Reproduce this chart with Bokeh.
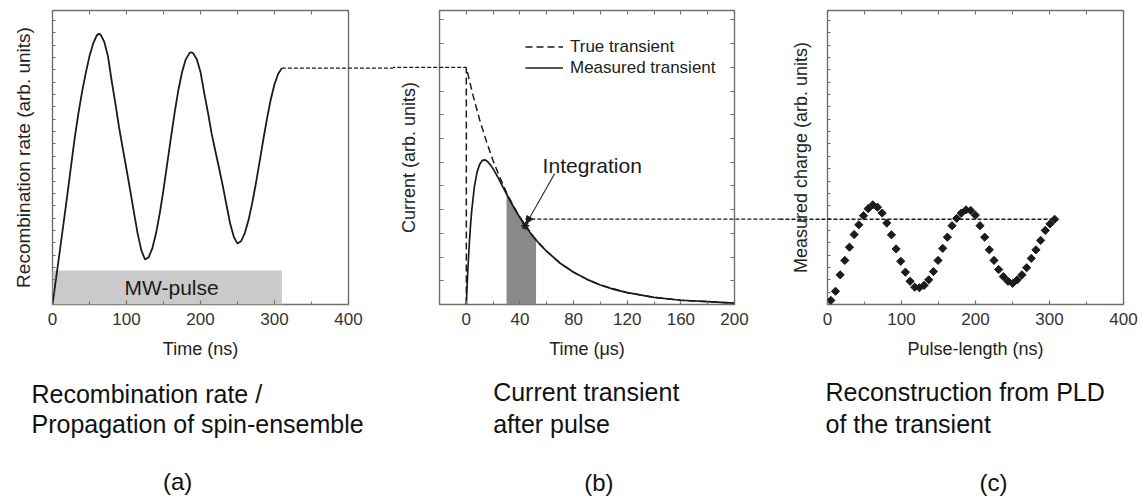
from bokeh.plotting import figure
from bokeh.layouts import row
from bokeh.models import (Range1d, FixedTicker, LinearAxis, Label, Arrow,
                          NormalHead, Legend, LegendItem)
from bokeh.core.properties import value
from bokeh.embed import file_html
from bokeh.resources import INLINE

# ---------------- data ----------------
# (a) recombination rate during the microwave pulse
a_time_ns = [0, 5, 10, 15, 20, 25, 30, 35, 40, 45, 50, 55, 60, 62.5, 65, 70, 75,
             80, 85, 90, 95, 100, 105, 110, 115, 120, 125, 130, 135, 140, 145,
             150, 155, 160, 165, 170, 175, 180, 185, 187.5, 190, 195, 200, 205,
             210, 215, 220, 225, 230, 235, 240, 245, 250, 255, 260, 265, 270,
             275, 280, 285, 290, 295, 300, 305, 310]
a_rate = [0.00, 0.92, 1.84, 2.78, 3.72, 4.70, 5.66, 6.50, 7.24, 7.88, 8.45, 8.88,
          9.16, 9.21, 9.18, 8.93, 8.44, 7.60, 6.83, 6.02, 5.30, 4.60, 3.88, 3.14,
          2.42, 1.85, 1.53, 1.61, 1.92, 2.43, 3.11, 3.91, 4.78, 5.67, 6.52, 7.28,
          7.90, 8.33, 8.55, 8.58, 8.55, 8.34, 7.91, 7.20, 6.54, 5.82, 5.23, 4.65,
          4.05, 3.40, 2.76, 2.30, 2.07, 2.16, 2.44, 2.88, 3.46, 4.14, 4.88, 5.63,
          6.34, 6.98, 7.49, 7.85, 8.04]
a_pulse_start_ns = 0
a_pulse_end_ns = 310
a_pulse_level = 1.16

# (b) current transient after the pulse
b_true_time_us = [0, 0, 5, 10, 15, 20, 25, 30, 35, 40, 50, 60, 70, 80, 90, 100,
                  120, 140, 160, 180, 200]
b_true_current = [0, 5.00, 4.41, 3.89, 3.44, 3.03, 2.68, 2.36, 2.08, 1.84, 1.43,
                  1.12, 0.87, 0.68, 0.53, 0.41, 0.25, 0.15, 0.09, 0.06, 0.03]
b_meas_time_us = [0, 1, 2, 3, 4, 6, 8, 10, 12, 14, 16, 18, 20, 24, 28, 30, 32, 36,
                  40, 44, 48, 52, 56, 60, 70, 80, 90, 100, 110, 120, 140, 160,
                  180, 200]
b_meas_current = [0, 0.65, 1.18, 1.62, 1.97, 2.48, 2.79, 2.96, 3.04, 3.05, 3.01,
                  2.94, 2.86, 2.66, 2.44, 2.33, 2.22, 2.02, 1.83, 1.66, 1.50,
                  1.36, 1.23, 1.12, 0.87, 0.68, 0.53, 0.41, 0.32, 0.25, 0.15,
                  0.09, 0.06, 0.03]
b_window_us = [30, 52]
b_probe_time_us = 44
b_probe_current = 1.66
b_charge_level = 1.80
b_step_level = 5.0

# (c) reconstruction from pulse-length dependence
c_pulse_ns = [4.5, 10.8, 17.1, 23.4, 29.7, 36.0, 42.3, 48.6, 54.9, 61.2, 67.5,
              73.8, 80.1, 86.4, 92.7, 99.0, 105.3, 111.6, 117.9, 124.2, 130.5,
              136.8, 143.1, 149.4, 155.7, 162.0, 168.3, 174.6, 180.9, 187.2,
              193.5, 199.8, 206.1, 212.4, 218.7, 225.0, 231.3, 237.6, 243.9,
              250.2, 256.5, 262.8, 269.1, 275.4, 281.7, 288.0, 294.3, 300.6,
              306.9]
c_charge = [0.14, 0.45, 1.01, 1.50, 1.95, 2.38, 2.71, 3.02, 3.26, 3.39, 3.31,
            3.11, 2.77, 2.37, 1.89, 1.47, 1.10, 0.79, 0.59, 0.57, 0.65, 0.84,
            1.12, 1.50, 1.91, 2.29, 2.68, 2.93, 3.11, 3.22, 3.20, 3.04, 2.68,
            2.29, 1.86, 1.50, 1.19, 0.95, 0.79, 0.72, 0.84, 1.01, 1.25, 1.57,
            1.86, 2.18, 2.52, 2.74, 2.90]

a_x_ticks, a_x_minor = [0, 100, 200, 300, 400], [50, 150, 250, 350]
b_x_ticks, b_x_minor = [0, 40, 80, 120, 160, 200], [-20, 20, 60, 100, 140, 180]
c_x_ticks, c_x_minor = [0, 100, 200, 300, 400], [50, 150, 250, 350]
b_y_marks = [0.5, 1, 1.5, 2, 2.5, 3, 3.5, 4, 4.5, 5, 5.5, 6]
ac_y_marks = [round(i * 0.42, 2) for i in range(1, 24)]

captions_a = ["Recombination rate /", "Propagation of spin-ensemble", "(a)"]
captions_b = ["Current transient", "after pulse", "(b)"]
captions_c = ["Reconstruction from PLD", "of the transient", "(c)"]

# ---------------- styling ----------------
FONT = "Liberation Sans"
INK = "#1b1b1b"
TXT = "#222222"
FRAME = "#707070"
H = 497
FRAME_TOP = 10
FRAME_BOTTOM = 304


def style_axis(ax, ticker, tick_len=4):
    ax.ticker = ticker
    ax.axis_line_color = None
    ax.major_tick_in = 4
    ax.major_tick_out = 0
    ax.minor_tick_in = tick_len
    ax.minor_tick_out = 0
    ax.major_tick_line_color = FRAME
    ax.minor_tick_line_color = FRAME
    ax.major_tick_line_width = 1.2
    ax.minor_tick_line_width = 1.1
    ax.major_label_text_font = FONT
    ax.major_label_text_font_size = "17px"
    ax.major_label_text_color = "#333333"
    ax.major_label_standoff = 8
    ax.axis_label_text_font = FONT
    ax.axis_label_text_font_style = "normal"
    ax.axis_label_text_color = TXT
    ax.axis_label_text_font_size = "18px"


def make_panel(width, xr, yr, left, right, x_major, x_minor, y_marks, xlabel,
               ylabel, y_standoff, right_ticks=False, y_tick_len=3,
               ylabel_size="18px"):
    p = figure(width=width, height=H, x_range=Range1d(*xr), y_range=Range1d(*yr),
               output_backend="svg", toolbar_location=None,
               min_border_left=left, min_border_right=right,
               min_border_top=FRAME_TOP, min_border_bottom=H - FRAME_BOTTOM)
    p.grid.visible = False
    p.outline_line_color = FRAME
    p.outline_line_width = 1.4
    p.background_fill_color = "white"
    p.border_fill_color = "white"
    style_axis(p.xaxis[0], FixedTicker(ticks=x_major, minor_ticks=x_minor),
               tick_len=3)
    p.xaxis[0].axis_label = xlabel
    p.xaxis[0].axis_label_standoff = 11
    # unlabeled y axis: only short tick marks
    style_axis(p.yaxis[0], FixedTicker(ticks=[], minor_ticks=y_marks),
               tick_len=y_tick_len)
    p.yaxis[0].axis_label = ylabel
    p.yaxis[0].axis_label_standoff = y_standoff
    p.yaxis[0].axis_label_text_font_size = ylabel_size
    top = LinearAxis()
    style_axis(top, FixedTicker(ticks=[], minor_ticks=sorted(x_major + x_minor)),
               tick_len=4)
    p.add_layout(top, "above")
    if right_ticks:
        ax = LinearAxis()
        style_axis(ax, FixedTicker(ticks=[], minor_ticks=y_marks), tick_len=4)
        p.add_layout(ax, "right")
    return p


def captions(p, x_left, y_lines, x_tag, y_tag, texts):
    p.text(x=[x_left, x_left], y=y_lines, text=texts[:2],
           text_font=value(FONT), text_font_size=value("25px"),
           text_color="#111111", text_baseline="middle", text_align="left",
           level="overlay")
    p.text(x=[x_tag], y=[y_tag], text=[texts[2]], text_font=value(FONT),
           text_font_size=value("24px"), text_color="#111111",
           text_baseline="middle", text_align="center", level="overlay")


# ---------------- panel (a) ----------------
pa = make_panel(393, (0, 400), (0, 10), 52, 45, a_x_ticks, a_x_minor, ac_y_marks,
                "Time (ns)", "Recombination rate (arb. units)", 19,
                ylabel_size="19px")
pa.quad(left=a_pulse_start_ns, right=a_pulse_end_ns, bottom=0, top=a_pulse_level,
        fill_color="#cacaca", line_color=None)
pa.add_layout(Label(x=(a_pulse_start_ns + a_pulse_end_ns) / 2 + 6,
                    y=a_pulse_level / 2, text="MW-pulse", text_font=FONT,
                    text_font_size="21px", text_color=INK, text_align="center",
                    text_baseline="middle"))
pa.line(a_time_ns, a_rate, line_color=INK, line_width=1.8)
pa.line([a_time_ns[-1], a_time_ns[-1] + 600], [a_rate[-1], a_rate[-1]],
        line_color=INK, line_width=1.3, line_dash="4 2", level="overlay")
captions(pa, -28.4, [-3.03, -4.05], 169, -6.02, captions_a)

# ---------------- panel (b) ----------------
pb = make_panel(387, (-20, 200), (0, 6.2), 46, 46, b_x_ticks, b_x_minor, b_y_marks,
                "Time (\u03bcs)", "Current (arb. units)", 21, right_ticks=True,
                y_tick_len=4)
win_t = [t for t in b_meas_time_us if b_window_us[0] <= t <= b_window_us[1]]
win_i = [i for t, i in zip(b_meas_time_us, b_meas_current)
         if b_window_us[0] <= t <= b_window_us[1]]
pb.varea(x=win_t, y1=[0] * len(win_t), y2=win_i, fill_color="#8a8a8a")
pb.line([-150, 0], [b_step_level, b_step_level], line_color=INK, line_width=1.3,
        line_dash="4 2", level="overlay")
r_true = pb.line(b_true_time_us, b_true_current, line_color=INK, line_width=1.5,
                 line_dash="7 4")
r_meas = pb.line(b_meas_time_us, b_meas_current, line_color=INK, line_width=1.7)
pb.line([b_probe_time_us, 400], [b_charge_level, b_charge_level], line_color=INK,
        line_width=1.3, line_dash="4 2", level="overlay")
pb.scatter([b_probe_time_us], [b_probe_current], marker="asterisk", size=8,
           line_color=INK, line_width=1.5)
pb.add_layout(Arrow(end=NormalHead(size=7, fill_color=INK, line_color=INK),
                    x_start=65.9, y_start=2.76, x_end=b_probe_time_us + 0.8,
                    y_end=b_probe_current + 0.05, line_color="#333333",
                    line_width=1.1))
pb.add_layout(Label(x=56.9, y=2.93, text="Integration", text_font=FONT,
                    text_font_size="21px", text_color=INK, text_baseline="middle"))
leg = Legend(items=[LegendItem(label="True transient", renderers=[r_true]),
                    LegendItem(label="Measured transient", renderers=[r_meas])],
             location=(86, 226), padding=0, margin=0, spacing=0,
             glyph_width=38, glyph_height=21, label_height=21, label_standoff=7,
             label_text_font=FONT, label_text_font_size="17px",
             label_text_color=TXT, border_line_color=None,
             background_fill_alpha=0)
pb.add_layout(leg)
captions(pb, 20.0, [-1.85, -2.51], 98.9, -3.75, captions_b)

# ---------------- panel (c) ----------------
pc = make_panel(362, (0, 400), (0, 10), 47, 19, c_x_ticks, c_x_minor, ac_y_marks,
                "Pulse-length (ns)", "Measured charge (arb. units)", 17)
pc.line([-300, c_pulse_ns[-1]], [c_charge[-1], c_charge[-1]], line_color=INK,
        line_width=1.3, line_dash="4 2", level="overlay")
pc.scatter(c_pulse_ns, c_charge, marker="square", angle=0.785, size=5.8,
           fill_color=INK, line_color=INK)
captions(pc, -2.7, [-2.98, -4.05], 224.3, -6.04, captions_c)

layout = row(pa, pb, pc, spacing=0)
open("out.html", "w").write(file_html(layout, INLINE))
